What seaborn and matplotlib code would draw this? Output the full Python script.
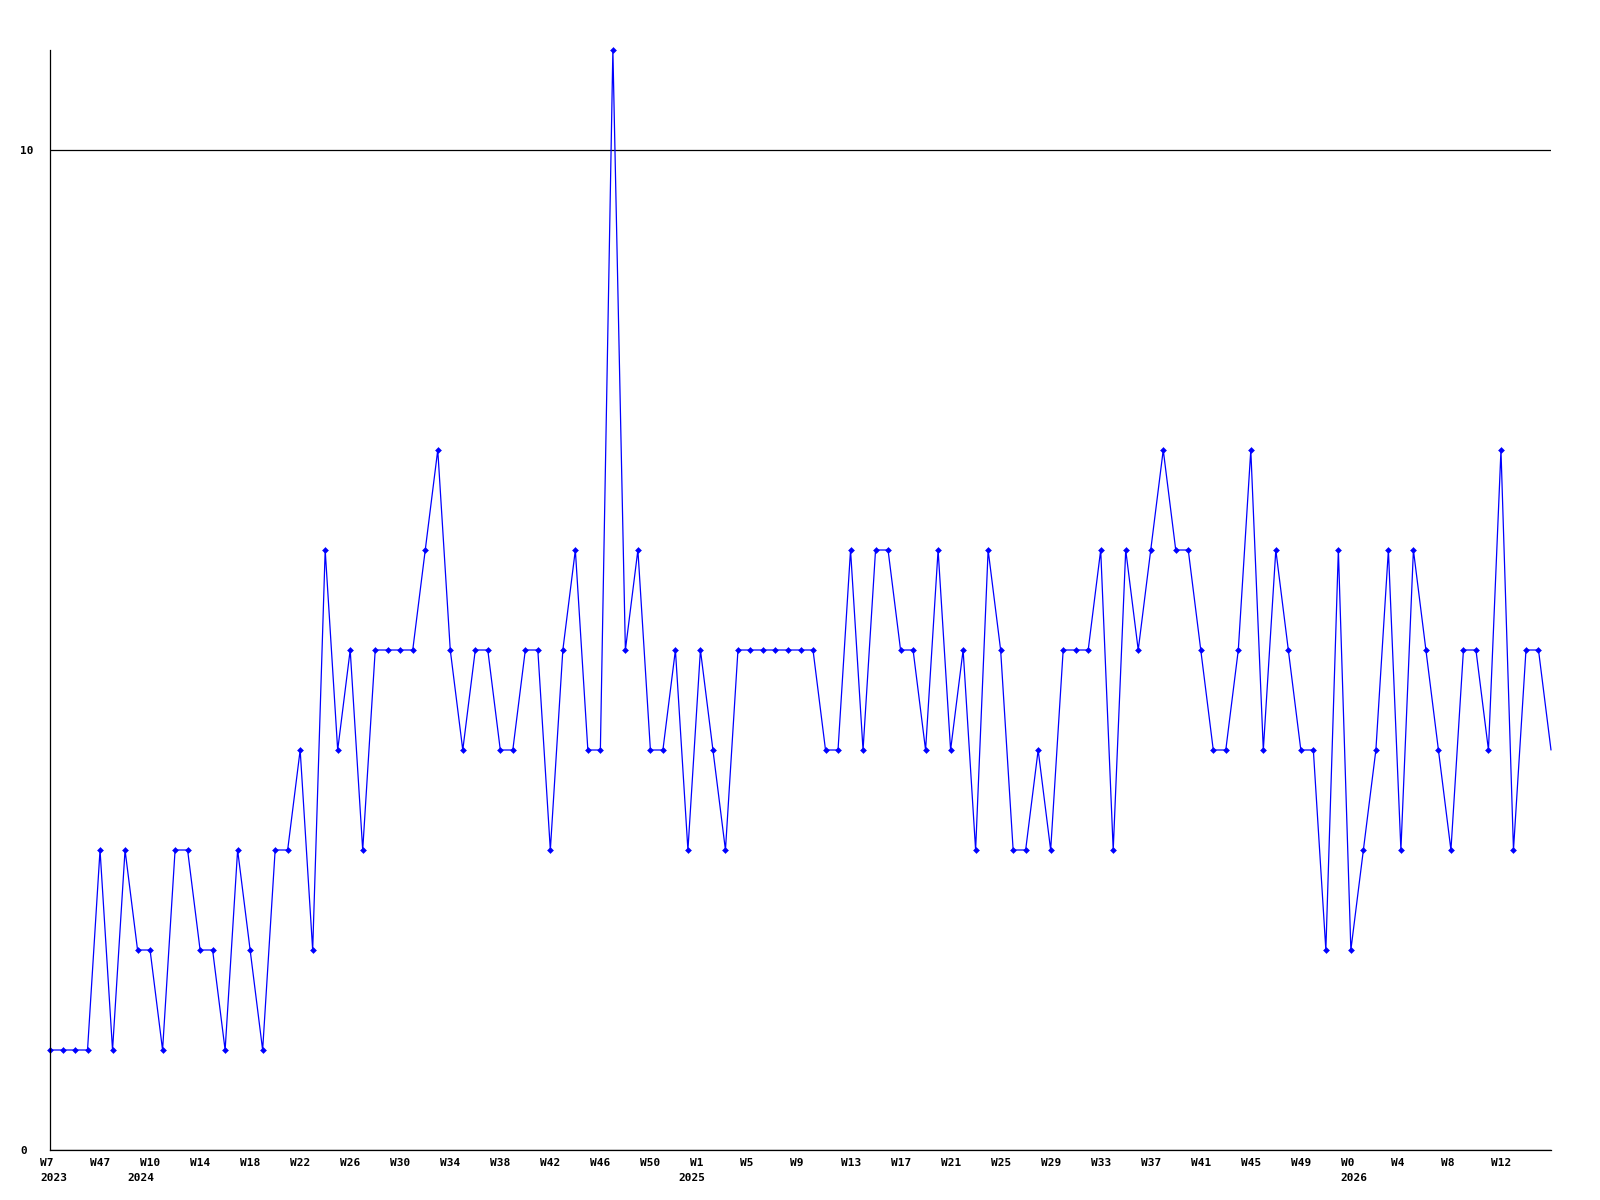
import numpy as np
import pandas as pd
import matplotlib
matplotlib.use("Agg")
import matplotlib.pyplot as plt
import seaborn as sns

# -----------------------------
# Data (weekly counts)
# -----------------------------
counts = [
    1, 1, 1, 1, 3, 1, 3, 2, 2, 1, 3, 3, 2, 2, 1, 3, 2, 1, 3, 3,
    4, 2, 6, 4, 5, 3, 5, 5, 5, 5, 6, 7, 5, 4, 5, 5, 4, 4, 5, 5,
    3, 5, 6, 4, 4, 11, 5, 6, 4, 4, 5, 3, 5, 4, 3, 5, 5, 5, 5, 5,
    5, 5, 4, 4, 6, 4, 6, 6, 5, 5, 4, 6, 4, 5, 3, 6, 5, 3, 3, 4,
    3, 5, 5, 5, 6, 3, 6, 5, 6, 7, 6, 6, 5, 4, 4, 5, 7, 4, 6, 5,
    4, 4, 2, 6, 2, 3, 4, 6, 3, 6, 5, 4, 3, 5, 5, 4, 7, 3, 5, 5,
    4,
]

week_labels = [
    "W7", "W47", "W10", "W14", "W18", "W22", "W26", "W30", "W34", "W38",
    "W42", "W46", "W50", "W1", "W5", "W9", "W13", "W17", "W21", "W25",
    "W29", "W33", "W37", "W41", "W45", "W49", "W0", "W4", "W8", "W12",
]
week_label_pos = list(range(0, 120, 4))

year_labels = ["2023", "2024", "2025", "2026"]
year_label_pos = [0, 7, 51, 104]

y_ticks = [0, 10]

df = pd.DataFrame({"week": np.arange(len(counts)), "count": counts})

# -----------------------------
# Plot
# -----------------------------
sns.set_style("white")
plt.rcParams["font.family"] = ["DejaVu Sans Mono", "DejaVu Sans"]

fig = plt.figure(figsize=(16, 12), dpi=100)
ax = fig.add_axes([50 / 1600, 50 / 1200, 1501 / 1600, 1100 / 1200])

# last point sits on the right edge without a marker in the original
sns.lineplot(data=df, x="week", y="count", ax=ax, color="#0000ff",
             linewidth=0.9, marker="D", markersize=3,
             markeredgewidth=0.4, markeredgecolor="#0000ff",
             markerfacecolor="#0000ff", clip_on=False,
             markevery=list(range(len(counts) - 1)))

ax.set_xlim(0, len(counts) - 1)
ax.set_ylim(0, 11)

for side in ["top", "right"]:
    ax.spines[side].set_visible(False)
for side in ["left", "bottom"]:
    ax.spines[side].set_color("black")
    ax.spines[side].set_linewidth(0.9)

ax.set_yticks(y_ticks)
ax.set_yticklabels([str(t) for t in y_ticks], fontsize=8, fontweight="bold",
                   color="black")
ax.tick_params(axis="y", length=0, pad=21.6)
for lab in ax.get_yticklabels():
    lab.set_horizontalalignment("left")
ax.grid(axis="y", color="black", linewidth=0.9)
ax.grid(axis="x", visible=False)

ax.set_xticks([])
ax.set_xlabel("")
ax.set_ylabel("")

for pos, lab in zip(week_label_pos, week_labels):
    ax.annotate(lab, xy=(pos, 0), xycoords=("data", "axes fraction"),
                xytext=(-7.2, -5.5), textcoords="offset points",
                ha="left", va="top", fontsize=8, fontweight="bold",
                color="black")

for pos, lab in zip(year_label_pos, year_labels):
    ax.annotate(lab, xy=(pos, 0), xycoords=("data", "axes fraction"),
                xytext=(-7.2, -16.3), textcoords="offset points",
                ha="left", va="top", fontsize=8, fontweight="bold",
                color="black")

plt.savefig("out.png", dpi=100)
